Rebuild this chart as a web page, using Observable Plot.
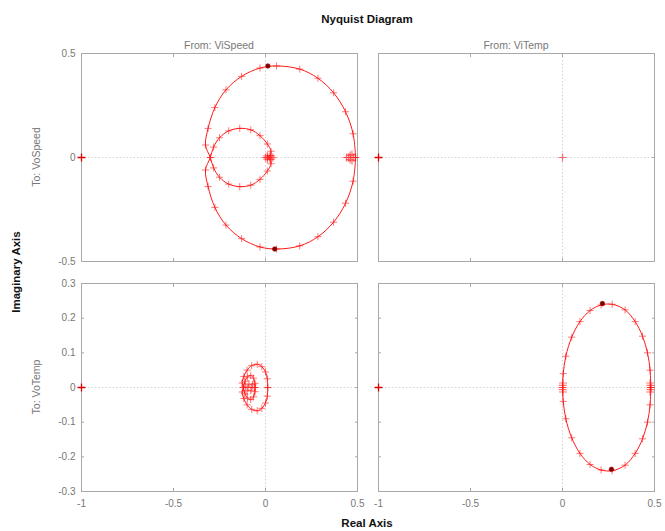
<!DOCTYPE html>
<html>
<head>
<meta charset="utf-8">
<script src="https://cdn.jsdelivr.net/npm/d3@7"></script>
<script src="https://cdn.jsdelivr.net/npm/@observablehq/plot@0.6"></script>
<style>
  html, body { margin: 0; padding: 0; background: #fff; }
  #wrap { position: relative; width: 665px; height: 531px; font-family: "Liberation Sans", Arial, sans-serif; }
  .lbl { position: absolute; white-space: nowrap; }
  .panel { position: absolute; }
  .panel svg { overflow: visible; }
</style>
</head>
<body>
<div id="wrap"></div>
<script>
// ---------- data ----------
const title = "Nyquist Diagram";
const inputs = ["From: ViSpeed", "From: ViTemp"];
const outputs = ["To: VoSpeed", "To: VoTemp"];
const xLabel = "Real Axis";
const yLabel = "Imaginary Axis";

const xTicks = [-1, -0.5, 0, 0.5];
const yTicksTop = [-0.5, 0, 0.5];
const yTicksBottom = [-0.3, -0.2, -0.1, 0, 0.1, 0.2, 0.3];

// VoSpeed <- ViSpeed (closed Nyquist contour)
const tlRe = [0.49, 0.476, 0.435, 0.37, 0.285, 0.186, 0.06, -0.03, -0.13, -0.215, -0.275, -0.312, -0.326, -0.3, -0.282, -0.25, -0.2, -0.14, -0.08, -0.03, 0.01, 0.03, 0.025, 0.01,
              0.025, 0.03, 0.01, -0.03, -0.08, -0.14, -0.2, -0.25, -0.282, -0.3, -0.326, -0.312, -0.275, -0.215, -0.13, -0.03, 0.06, 0.186, 0.285, 0.37, 0.435, 0.476, 0.49];
const tlIm = [0, -0.114, -0.22, -0.311, -0.381, -0.425, -0.44, -0.43, -0.39, -0.325, -0.24, -0.14, -0.06, 0, 0.05, 0.095, 0.128, 0.14, 0.133, 0.105, 0.065, 0.03, 0.01, 0,
              -0.01, -0.03, -0.065, -0.105, -0.133, -0.14, -0.128, -0.095, -0.05, 0, 0.06, 0.14, 0.24, 0.325, 0.39, 0.43, 0.44, 0.425, 0.381, 0.311, 0.22, 0.114, 0];
const tlDenseRe = [0.44, 0.45, 0.46, 0.46, 0.47, 0.47, 0.48, 0.0, 0.01, 0.01, 0.02, 0.03, 0.03, 0.04];
const tlDenseIm = [0, 0, 0.01, -0.01, 0.015, -0.015, 0, 0, 0.008, -0.008, 0, 0.008, -0.008, 0];
const tlArrowRe = [0.013, 0.05];
const tlArrowIm = [0.44, -0.44];

// VoSpeed <- ViTemp (zero response)
const trRe = [0];
const trIm = [0];

// VoTemp <- ViSpeed
const blRe = [0.012, 0.01, 0.0, -0.02, -0.045, -0.075, -0.1, -0.118, -0.127, -0.12, -0.112, -0.098, -0.08, -0.065, -0.057, -0.056,
              -0.057, -0.065, -0.08, -0.098, -0.112, -0.12, -0.127, -0.118, -0.1, -0.075, -0.045, -0.02, 0.0, 0.01, 0.012];
const blIm = [0, -0.025, -0.045, -0.06, -0.067, -0.063, -0.05, -0.032, -0.013, 0, 0.018, 0.03, 0.035, 0.027, 0.012, 0,
              -0.012, -0.027, -0.035, -0.03, -0.018, 0, 0.013, 0.032, 0.05, 0.063, 0.067, 0.06, 0.045, 0.025, 0];
const blDenseRe = [-0.06, -0.07, -0.08, -0.09, -0.1, -0.11, -0.075, -0.095];
const blDenseIm = [0, 0.008, -0.008, 0.01, -0.01, 0.004, 0, 0];

// VoTemp <- ViTemp
const brRe = [0.48, 0.476, 0.462, 0.435, 0.395, 0.34, 0.27, 0.21, 0.15, 0.095, 0.05, 0.018, 0.004, 0,
              0.004, 0.018, 0.05, 0.095, 0.15, 0.21, 0.27, 0.34, 0.395, 0.435, 0.462, 0.476, 0.48];
const brIm = [0, -0.05, -0.1, -0.148, -0.19, -0.224, -0.24, -0.238, -0.222, -0.19, -0.145, -0.09, -0.04, 0,
              0.04, 0.09, 0.145, 0.19, 0.222, 0.238, 0.24, 0.224, 0.19, 0.148, 0.1, 0.05, 0];
const brDenseRe = [0, 0.001, 0.001, 0.003, 0.003, 0.479, 0.478, 0.478, 0.476, 0.476];
const brDenseIm = [0, 0.006, -0.006, 0.013, -0.013, 0, 0.006, -0.006, 0.013, -0.013];
const brArrowRe = [0.217, 0.266];
const brArrowIm = [0.242, -0.236];

const critRe = [-1];
const critIm = [0];

// ---------- helpers ----------
const zip = (re, im) => re.map((r, i) => ({re: r, im: im[i]}));
const plusSym = {
  draw(ctx, size) {
    const h = Math.sqrt(size) / 2;
    ctx.moveTo(-h, 0); ctx.lineTo(h, 0);
    ctx.moveTo(0, -h); ctx.lineTo(0, h);
  }
};
const RED = "#ff1a1a";
const fmt = d => String(d);

function panel({curve, dense, arrows, yDomain, yTicks, showX, showY, left, top, ml, mr, mb}) {
  const marks = [
    Plot.ruleX([0], {stroke: "#c8c8c8", strokeWidth: 0.8, strokeDasharray: "1.5,2"}),
    Plot.ruleY([0], {stroke: "#c8c8c8", strokeWidth: 0.8, strokeDasharray: "1.5,2"}),
    Plot.frame({stroke: "#a8a8a8", strokeWidth: 1}),
    Plot.axisX(xTicks, {anchor: "bottom", label: null, tickSize: -3, tickPadding: 11, stroke: "#a8a8a8",
      tickFormat: showX ? fmt : () => "", fontSize: 10, fill: "#777"}),
    Plot.axisX(xTicks, {anchor: "top", label: null, tickSize: -3, stroke: "#a8a8a8", tickFormat: () => ""}),
    Plot.axisY(yTicks, {anchor: "left", label: null, tickSize: -3, tickPadding: 9, stroke: "#a8a8a8",
      tickFormat: showY ? fmt : () => "", fontSize: 10, fill: "#777"}),
    Plot.axisY(yTicks, {anchor: "right", label: null, tickSize: -3, stroke: "#a8a8a8", tickFormat: () => ""})
  ];
  if (curve) {
    marks.push(Plot.line(curve, {x: "re", y: "im", stroke: RED, strokeWidth: 1, curve: "catmull-rom"}));
    marks.push(Plot.dot(curve, {x: "re", y: "im", symbol: plusSym, r: 4, stroke: RED, strokeOpacity: 0.6, strokeWidth: 1}));
  }
  if (dense) {
    marks.push(Plot.dot(dense, {x: "re", y: "im", symbol: plusSym, r: 4.5, stroke: RED, strokeOpacity: 0.6, strokeWidth: 1.2}));
  }
  if (arrows) {
    marks.push(Plot.dot(arrows, {x: "re", y: "im", r: 2.3, fill: "#7a0000", stroke: "#b00000", strokeWidth: 0.6}));
  }
  marks.push(Plot.dot(zip(critRe, critIm), {x: "re", y: "im", symbol: plusSym, r: 4.5, stroke: "#e00000", strokeWidth: 1.3}));

  const p = Plot.plot({
    width: ml + 276 + mr,
    height: 5 + 208 + mb,
    marginLeft: ml, marginRight: mr, marginTop: 5, marginBottom: mb,
    style: {background: "transparent", fontFamily: "Liberation Sans, Arial, sans-serif", overflow: "visible"},
    x: {domain: [-1, 0.5], label: null},
    y: {domain: yDomain, label: null},
    clip: false,
    marks
  });
  const d = document.createElement("div");
  d.className = "panel";
  d.style.left = left + "px";
  d.style.top = top + "px";
  d.appendChild(p);
  return d;
}

const wrap = document.getElementById("wrap");
wrap.appendChild(panel({curve: zip(tlRe, tlIm), dense: zip(tlDenseRe, tlDenseIm), arrows: zip(tlArrowRe, tlArrowIm),
  yDomain: [-0.5, 0.5], yTicks: yTicksTop, showX: false, showY: true, left: 41, top: 48, ml: 40, mr: 10, mb: 8}));
wrap.appendChild(panel({curve: null, dense: zip(trRe, trIm), arrows: null,
  yDomain: [-0.5, 0.5], yTicks: yTicksTop, showX: false, showY: false, left: 368, top: 48, ml: 10, mr: 10, mb: 8}));
wrap.appendChild(panel({curve: zip(blRe, blIm), dense: zip(blDenseRe, blDenseIm), arrows: null,
  yDomain: [-0.3, 0.3], yTicks: yTicksBottom, showX: true, showY: true, left: 41, top: 278, ml: 40, mr: 10, mb: 22}));
wrap.appendChild(panel({curve: zip(brRe, brIm), dense: zip(brDenseRe, brDenseIm), arrows: zip(brArrowRe, brArrowIm),
  yDomain: [-0.3, 0.3], yTicks: yTicksBottom, showX: true, showY: false, left: 368, top: 278, ml: 10, mr: 10, mb: 22}));

function label(text, x, y, css, rotate) {
  const s = document.createElement("div");
  s.className = "lbl";
  s.textContent = text;
  s.style.left = x + "px";
  s.style.top = y + "px";
  s.style.transform = "translate(-50%,-50%)" + (rotate ? " rotate(-90deg)" : "");
  Object.assign(s.style, css);
  wrap.appendChild(s);
}
const grey = {color: "#777", fontSize: "10.5px"};
const bold = {color: "#111", fontSize: "11.5px", fontWeight: "bold"};
label(title, 367, 19, bold);
label(inputs[0], 219, 45, grey);
label(inputs[1], 516, 45, grey);
label(outputs[0], 36, 157, grey, true);
label(outputs[1], 36, 387, grey, true);
label(yLabel, 16, 272, bold, true);
label(xLabel, 367, 523, bold);
</script>
</body>
</html>
